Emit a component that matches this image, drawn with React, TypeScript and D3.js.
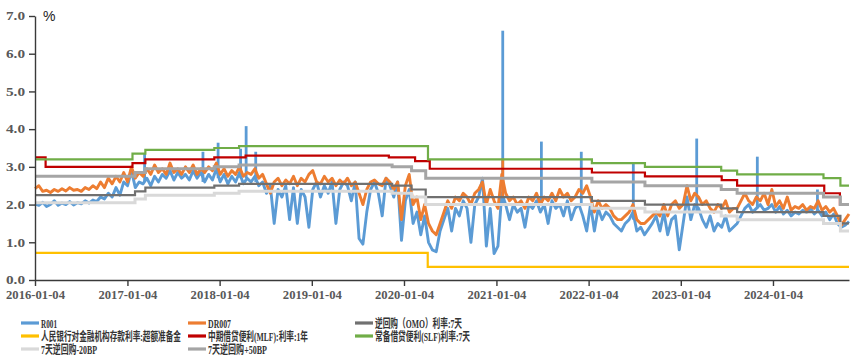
import React, { useEffect, useRef } from "react";
import * as d3 from "d3";

const width = 865;
const height = 362;
const margin = { top: 16, right: 16, bottom: 82, left: 35 };

const parse = d3.timeParse("%Y-%m-%d");
const startDate = "2016-01-04";
const endDate = "2024-10-31";

const yTicks = [0, 1, 2, 3, 4, 5, 6, 7];
const xTicks = ["2016-01-04", "2017-01-04", "2018-01-04", "2019-01-04", "2020-01-04", "2021-01-04", "2022-01-04", "2023-01-04", "2024-01-04"];

// R001 / DR007, two readings a month
const r001_2016 = [2.02, 1.98, 2.06, 1.95, 2.0, 2.1, 1.98, 2.04, 2.0, 2.08, 1.99, 2.05, 2.02, 2.1, 2.04, 2.12, 2.08, 2.2, 2.15, 2.3, 2.2, 2.45, 2.25, 2.6];
const r001_2017 = [2.5, 2.9, 2.45, 2.6, 2.55, 2.7, 2.5, 2.75, 2.6, 2.8, 2.7, 2.9, 2.65, 2.85, 2.7, 2.8, 2.65, 2.9, 2.7, 2.85, 2.6, 2.8, 2.65, 2.95];
const r001_2018 = [2.6, 2.8, 2.55, 2.75, 2.6, 2.85, 2.55, 2.7, 2.6, 2.75, 2.5, 2.6, 2.3, 2.5, 1.5, 2.4, 2.2, 2.5, 1.6, 2.45, 1.5, 2.4, 2.2, 1.4];
const r001_2019 = [2.4, 2.6, 2.2, 2.5, 2.3, 2.6, 1.5, 2.4, 2.6, 2.5, 2.1, 2.6, 1.1, 0.95, 1.8, 2.4, 2.6, 2.3, 1.7, 2.7, 2.5, 2.2, 2.6, 1.05];
const r001_2020 = [2.1, 2.4, 1.5, 1.8, 1.2, 1.7, 1.0, 0.8, 0.75, 1.3, 1.6, 1.9, 1.3, 1.9, 1.7, 2.1, 1.9, 1.0, 2.0, 2.2, 2.7, 0.9, 1.9, 0.7];
const r001_2021 = [0.9, 2.3, 2.0, 1.6, 2.0, 1.8, 1.9, 1.4, 2.0, 1.9, 2.1, 1.8, 2.0, 1.5, 2.1, 1.9, 2.0, 1.7, 2.1, 1.6, 1.9, 2.0, 1.7, 1.3];
const r001_2022 = [2.0, 1.3, 1.9, 1.6, 1.8, 1.7, 1.5, 1.4, 1.3, 1.5, 1.6, 1.8, 1.3, 1.4, 1.2, 1.35, 1.5, 1.7, 1.3, 1.8, 1.2, 1.6, 1.7, 0.8];
const r001_2023 = [1.5, 2.2, 1.6, 2.0, 1.9, 1.6, 1.4, 1.7, 1.3, 1.5, 1.4, 1.7, 1.3, 1.4, 1.5, 1.7, 1.9, 2.0, 1.8, 1.9, 2.0, 1.85, 1.9, 2.0];
const r001_2024 = [1.8, 1.95, 1.75, 1.85, 1.7, 1.8, 1.75, 1.85, 1.8, 1.9, 1.75, 1.85, 1.7, 1.8, 1.6, 1.75, 1.5, 1.4, 1.45, 1.55];

const dr007_2016 = [2.42, 2.5, 2.35, 2.38, 2.32, 2.4, 2.35, 2.42, 2.36, 2.45, 2.38, 2.4, 2.35, 2.45, 2.4, 2.5, 2.42, 2.6, 2.45, 2.7, 2.55, 2.75, 2.6, 2.85];
const dr007_2017 = [2.6, 3.0, 2.7, 2.85, 2.75, 2.95, 2.8, 3.05, 2.85, 2.95, 2.8, 3.1, 2.85, 2.95, 2.8, 3.0, 2.85, 3.05, 2.8, 2.95, 2.85, 3.0, 2.9, 3.1];
const dr007_2018 = [2.8, 2.95, 2.75, 2.9, 2.8, 3.0, 2.75, 2.85, 2.8, 2.95, 2.7, 2.8, 2.55, 2.3, 2.6, 2.7, 2.5, 2.65, 2.55, 2.75, 2.5, 2.7, 2.6, 2.8];
const dr007_2019 = [2.9, 2.6, 2.55, 2.75, 2.6, 2.7, 2.5, 2.65, 2.55, 2.7, 2.5, 2.6, 2.3, 2.0, 2.4, 2.6, 2.65, 2.55, 2.5, 2.7, 2.6, 2.4, 2.6, 1.6];
const dr007_2020 = [2.5, 2.8, 2.0, 2.2, 1.6, 2.0, 1.5, 1.3, 1.2, 1.5, 1.8, 2.1, 1.9, 2.2, 2.1, 2.3, 2.2, 2.0, 2.3, 2.4, 2.6, 2.0, 2.4, 2.1];
const dr007_2021 = [1.9, 2.8, 2.3, 2.1, 2.2, 2.0, 2.1, 1.9, 2.2, 2.1, 2.3, 2.0, 2.2, 2.1, 2.3, 2.1, 2.4, 2.2, 2.3, 2.1, 2.2, 2.4, 2.3, 2.5];
const dr007_2022 = [2.2, 1.8, 2.1, 1.9, 2.0, 1.9, 1.7, 1.6, 1.6, 1.7, 1.8, 2.0, 1.6, 1.5, 1.5, 1.6, 1.7, 1.8, 1.7, 2.0, 1.7, 2.0, 2.1, 1.9];
const dr007_2023 = [2.0, 2.5, 2.1, 2.3, 2.2, 2.0, 2.1, 1.9, 1.8, 2.0, 1.9, 2.1, 1.8, 1.9, 1.9, 2.1, 2.3, 2.1, 2.0, 2.2, 2.1, 2.3, 2.0, 2.4];
const dr007_2024 = [1.95, 2.1, 1.9, 2.2, 1.85, 1.95, 1.9, 2.0, 1.85, 1.95, 1.9, 2.1, 1.85, 1.95, 1.8, 1.9, 1.7, 1.45, 1.6, 1.75];

const r001 = [...r001_2016, ...r001_2017, ...r001_2018, ...r001_2019, ...r001_2020, ...r001_2021, ...r001_2022, ...r001_2023, ...r001_2024];
const dr007 = [...dr007_2016, ...dr007_2017, ...dr007_2018, ...dr007_2019, ...dr007_2020, ...dr007_2021, ...dr007_2022, ...dr007_2023, ...dr007_2024];

// single-day jumps
const r001SpikeDates = ["2017-03-13", "2017-10-30", "2017-12-29", "2018-03-28", "2018-04-19", "2018-05-27", "2021-01-29", "2021-07-01", "2021-12-06", "2022-06-30", "2023-03-08", "2023-11-03", "2024-06-28"];
const r001SpikeBase = [2.6, 2.6, 2.7, 2.7, 2.7, 2.6, 2.0, 2.0, 2.0, 1.6, 1.8, 1.9, 1.8];
const r001SpikePeak = [3.35, 3.4, 3.64, 3.48, 4.08, 3.4, 6.61, 3.67, 3.4, 3.08, 3.75, 3.27, 2.4];
const dr007SpikeDates = ["2021-01-29"];
const dr007SpikeBase = [2.2];
const dr007SpikePeak = [3.22];

// policy rates (step changes)
const omoDates = ["2016-01-04", "2017-02-03", "2017-03-16", "2017-12-14", "2018-03-22", "2019-11-18", "2020-02-03", "2020-03-30", "2022-01-17", "2022-08-15", "2023-06-13", "2023-08-15", "2024-07-22", "2024-09-27"];
const omoRates = [2.25, 2.35, 2.45, 2.5, 2.55, 2.5, 2.4, 2.2, 2.1, 2.0, 1.9, 1.8, 1.7, 1.5];
const omoMinus20 = [2.05, 2.15, 2.25, 2.3, 2.35, 2.3, 2.2, 2.0, 1.9, 1.8, 1.7, 1.6, 1.5, 1.3];
const omoPlus50 = [2.75, 2.85, 2.95, 3.0, 3.05, 3.0, 2.9, 2.7, 2.6, 2.5, 2.4, 2.3, 2.2, 2.0];

const excessDates = ["2016-01-04", "2020-04-07"];
const excessRates = [0.72, 0.35];

const mlfDates = ["2016-01-04", "2016-02-15", "2017-01-24", "2017-03-16", "2017-12-14", "2018-04-17", "2019-11-05", "2020-02-17", "2020-04-15", "2022-01-17", "2022-08-15", "2023-06-15", "2023-08-15", "2024-07-25", "2024-09-25"];
const mlfRates = [3.25, 3.0, 3.1, 3.2, 3.25, 3.3, 3.25, 3.15, 2.95, 2.85, 2.75, 2.65, 2.5, 2.3, 2.0];

const slfDates = ["2016-01-04", "2017-01-24", "2017-03-16", "2017-12-14", "2018-03-22", "2020-04-08", "2022-01-17", "2022-08-15", "2023-06-13", "2023-08-15", "2024-07-22", "2024-09-27"];
const slfRates = [3.2, 3.35, 3.45, 3.5, 3.55, 3.2, 3.1, 3.0, 2.9, 2.8, 2.7, 2.5];

const colors = {
  r001: "#5b9bd5",
  dr007: "#ed7d31",
  omo: "#707070",
  excess: "#ffc000",
  mlf: "#c00000",
  slf: "#70ad47",
  minus20: "#d9d9d9",
  plus50: "#a5a5a5",
};

const legend = [
  { label: "R001", color: colors.r001, col: 0, row: 0, len: 16 },
  { label: "DR007", color: colors.dr007, col: 1, row: 0, len: 23 },
  { label: "逆回购（OMO）利率:7天", color: colors.omo, col: 2, row: 0, len: 87 },
  { label: "人民银行对金融机构存款利率:超额准备金", color: colors.excess, col: 0, row: 1, len: 140 },
  { label: "中期借贷便利(MLF):利率:1年", color: colors.mlf, col: 1, row: 1, len: 100 },
  { label: "常备借贷便利(SLF)利率:7天", color: colors.slf, col: 2, row: 1, len: 95 },
  { label: "7天逆回购-20BP", color: colors.minus20, col: 0, row: 2, len: 56 },
  { label: "7天逆回购+50BP", color: colors.plus50, col: 1, row: 2, len: 59 },
];
const legendCols = [21, 188, 355];
const legendRows = [323, 336, 349];

const serif = "'Liberation Serif', 'Times New Roman', 'Noto Sans CJK SC', serif";

function steps(dates: string[], vals: number[]): [Date, number][] {
  const pts: [Date, number][] = dates.map((d, i) => [parse(d)!, vals[i]]);
  pts.push([parse(endDate)!, vals[vals.length - 1]]);
  return pts;
}

export default function App() {
  const xAxisRef = useRef<SVGGElement>(null);
  const yAxisRef = useRef<SVGGElement>(null);

  const x = d3
    .scaleTime()
    .domain([parse(startDate)!, parse(endDate)!])
    .range([margin.left, width - margin.right]);
  const y = d3
    .scaleLinear()
    .domain([0, 7])
    .range([height - margin.bottom, margin.top]);

  const t0 = parse(startDate)!.getTime();
  const t1 = parse(endDate)!.getTime();
  const daily = (vals: number[]): [Date, number][] =>
    vals.map((v, i) => [new Date(t0 + ((t1 - t0) * i) / (vals.length - 1)), v]);

  const line = d3
    .line<[Date, number]>()
    .x((d) => x(d[0]))
    .y((d) => y(d[1]));
  const stepLine = d3
    .line<[Date, number]>()
    .x((d) => x(d[0]))
    .y((d) => y(d[1]))
    .curve(d3.curveStepAfter);

  useEffect(() => {
    const gx = d3.select(xAxisRef.current!);
    gx.call(
      d3
        .axisBottom(x)
        .tickValues(xTicks.map((d) => parse(d)!))
        .tickFormat(d3.timeFormat("%Y-%m-%d") as any)
        .tickSize(6)
        .tickSizeOuter(0)
        .tickPadding(4)
    );
    gx.select(".domain").attr("stroke", "#3a3a3a").attr("stroke-width", 1.4);
    gx.selectAll(".tick line").attr("stroke", "#3a3a3a").attr("stroke-width", 1.4);
    gx.selectAll(".tick text")
      .attr("font-family", serif)
      .attr("font-weight", "bold")
      .attr("font-size", 12)
      .attr("fill", "#595959")
      .attr("textLength", 59)
      .attr("lengthAdjust", "spacingAndGlyphs");

    const gy = d3.select(yAxisRef.current!);
    gy.call(
      d3
        .axisLeft(y)
        .tickValues(yTicks)
        .tickFormat(d3.format(".1f") as any)
        .tickSize(6)
        .tickSizeOuter(0)
        .tickPadding(4)
    );
    gy.select(".domain").attr("stroke", "#3a3a3a").attr("stroke-width", 1.4);
    gy.selectAll(".tick line").attr("stroke", "#3a3a3a").attr("stroke-width", 1.4);
    gy.selectAll(".tick text")
      .attr("font-family", serif)
      .attr("font-weight", "bold")
      .attr("font-size", 12)
      .attr("fill", "#595959")
      .attr("textLength", 19)
      .attr("lengthAdjust", "spacingAndGlyphs");
  });

  const spikes = (dates: string[], base: number[], peak: number[], color: string) =>
    dates.map((d, i) => (
      <line
        key={d + color}
        x1={x(parse(d)!)}
        x2={x(parse(d)!)}
        y1={y(base[i])}
        y2={y(peak[i])}
        stroke={color}
        strokeWidth={2.8}
      />
    ));

  return (
    <svg width={width} height={height} style={{ position: "absolute", left: 0, top: 0, background: "#fff" }}>
      <rect width={width} height={height} fill="#fff" />
      <path d={line(daily(r001))!} fill="none" stroke={colors.r001} strokeWidth={2.9} strokeLinejoin="round" />
      {spikes(r001SpikeDates, r001SpikeBase, r001SpikePeak, colors.r001)}
      <path d={line(daily(dr007))!} fill="none" stroke={colors.dr007} strokeWidth={2.9} strokeLinejoin="round" />
      {spikes(dr007SpikeDates, dr007SpikeBase, dr007SpikePeak, colors.dr007)}
      <path d={stepLine(steps(omoDates, omoRates))!} fill="none" stroke={colors.omo} strokeWidth={2.2} />
      <path d={stepLine(steps(excessDates, excessRates))!} fill="none" stroke={colors.excess} strokeWidth={2.2} />
      <path d={stepLine(steps(mlfDates, mlfRates))!} fill="none" stroke={colors.mlf} strokeWidth={2.2} />
      <path d={stepLine(steps(slfDates, slfRates))!} fill="none" stroke={colors.slf} strokeWidth={2.2} />
      <path d={stepLine(steps(omoDates, omoMinus20))!} fill="none" stroke={colors.minus20} strokeWidth={3} />
      <path d={stepLine(steps(omoDates, omoPlus50))!} fill="none" stroke={colors.plus50} strokeWidth={3} />

      <g ref={xAxisRef} transform={`translate(0,${height - margin.bottom})`} />
      <g ref={yAxisRef} transform={`translate(${margin.left},0)`} />
      <text x={43} y={21} fontFamily="'Liberation Sans', Arial, sans-serif" fontSize={14} fill="#222">
        %
      </text>

      {legend.map((l) => (
        <g key={l.label} transform={`translate(${legendCols[l.col]},${legendRows[l.row]})`}>
          <line x1={0} x2={18} y1={0} y2={0} stroke={l.color} strokeWidth={3.2} />
          <text
            x={20}
            y={4.5}
            fontFamily={serif}
            fontWeight="bold"
            fontSize={12}
            fill="#333"
            textLength={l.len}
            lengthAdjust="spacingAndGlyphs"
          >
            {l.label}
          </text>
        </g>
      ))}
    </svg>
  );
}
